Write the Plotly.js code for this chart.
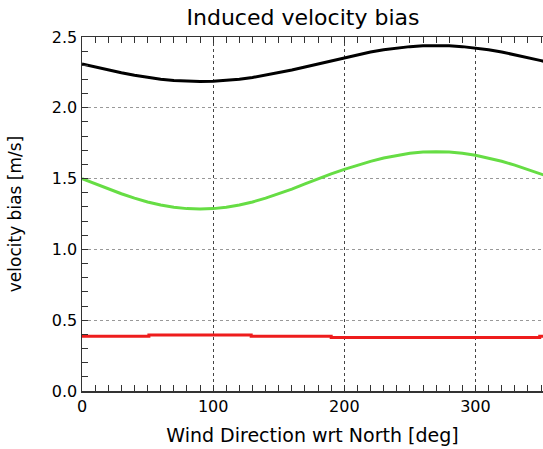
<!DOCTYPE html>
<html>
<head>
<meta charset="utf-8">
<script src="https://cdn.plot.ly/plotly-3.0.1.min.js"></script>
<style>
  html, body { margin: 0; padding: 0; overflow: hidden; background: #fff; }
  #chart { width: 543px; height: 449px; }
</style>
</head>
<body>
<div id="chart"></div>
<script>
// Wind direction (deg) sample points
const direction = [0, 10, 20, 30, 40, 50, 60, 70, 80, 90, 100, 110, 120, 130, 140, 150, 160, 170, 180,
                   190, 200, 210, 220, 230, 240, 250, 260, 270, 280, 290, 300, 310, 320, 330, 340, 350, 360];

// Black curve
const biasBlack = [2.310, 2.288, 2.267, 2.248, 2.230, 2.214, 2.202, 2.193, 2.187, 2.185, 2.187, 2.193, 2.202,
                   2.214, 2.230, 2.248, 2.267, 2.288, 2.310, 2.333, 2.354, 2.375, 2.394, 2.410, 2.423, 2.432,
                   2.438, 2.440, 2.438, 2.432, 2.423, 2.410, 2.394, 2.375, 2.354, 2.333, 2.310];

// Green curve
const biasGreen = [1.500, 1.463, 1.426, 1.393, 1.362, 1.335, 1.314, 1.298, 1.288, 1.285, 1.288, 1.298, 1.314,
                   1.335, 1.362, 1.393, 1.426, 1.463, 1.500, 1.533, 1.565, 1.595, 1.622, 1.646, 1.665, 1.679,
                   1.687, 1.690, 1.687, 1.679, 1.665, 1.646, 1.622, 1.595, 1.565, 1.533, 1.500];

// Red step curve
const redDirection = [0, 51, 129, 190, 349, 360];
const biasRed = [0.386, 0.395, 0.387, 0.378, 0.386, 0.386];

const xTickVals = [0, 100, 200, 300];
const xTickText = ['0', '100', '200', '300'];
const yTickVals = [0.0, 0.5, 1.0, 1.5, 2.0, 2.5];
const yTickText = ['0.0', '0.5', '1.0', '1.5', '2.0', '2.5'];

const FONT = 'DejaVu Sans, sans-serif';

const traces = [
  { x: direction, y: biasBlack, mode: 'lines', line: { color: '#000000', width: 3 }, hoverinfo: 'skip' },
  { x: direction, y: biasGreen, mode: 'lines', line: { color: '#66dd44', width: 3 }, hoverinfo: 'skip' },
  { x: redDirection, y: biasRed, mode: 'lines', line: { color: '#ee1c1c', width: 3, shape: 'hv' }, hoverinfo: 'skip' }
];

const layout = {
  width: 543, height: 449,
  margin: { l: 82, r: 0, t: 37, b: 58 },
  paper_bgcolor: '#ffffff', plot_bgcolor: '#ffffff',
  showlegend: false,
  font: { family: FONT, color: '#000000', size: 16 },
  title: { text: 'Induced velocity bias', font: { family: FONT, size: 22, color: '#000' },
           x: 0.558, xanchor: 'center', y: 0.962, yanchor: 'middle' },
  xaxis: {
    range: [0, 351.5], showline: true, linecolor: '#333', linewidth: 1.5, mirror: 'ticks',
    tickvals: xTickVals, ticktext: xTickText, ticks: 'inside', ticklen: 6, tickcolor: '#333', tickwidth: 1,
    tickfont: { family: FONT, size: 16 },
    showgrid: true, gridcolor: '#444', griddash: 'dot', gridwidth: 1, zeroline: false,
    minor: { dtick: 10, tick0: 0, ticks: 'inside', ticklen: 6, tickcolor: '#333', tickwidth: 1, showgrid: false },
    title: { text: 'Wind Direction wrt North [deg]', font: { family: FONT, size: 19 }, standoff: 14 }
  },
  yaxis: {
    range: [0, 2.5], showline: true, linecolor: '#333', linewidth: 1.5, mirror: false,
    tickvals: yTickVals, ticktext: yTickText, ticks: 'inside', ticklen: 6, tickcolor: '#333', tickwidth: 1,
    tickfont: { family: FONT, size: 16 },
    showgrid: true, gridcolor: '#999', griddash: 'dot', gridwidth: 1, zeroline: false,
    minor: { dtick: 0.1, tick0: 0, ticks: 'inside', ticklen: 6, tickcolor: '#333', tickwidth: 1, showgrid: false },
    title: { text: 'velocity bias [m/s]', font: { family: FONT, size: 17 }, standoff: 26 }
  }
};

Plotly.newPlot('chart', traces, layout, { staticPlot: true, displayModeBar: false });
</script>
</body>
</html>
